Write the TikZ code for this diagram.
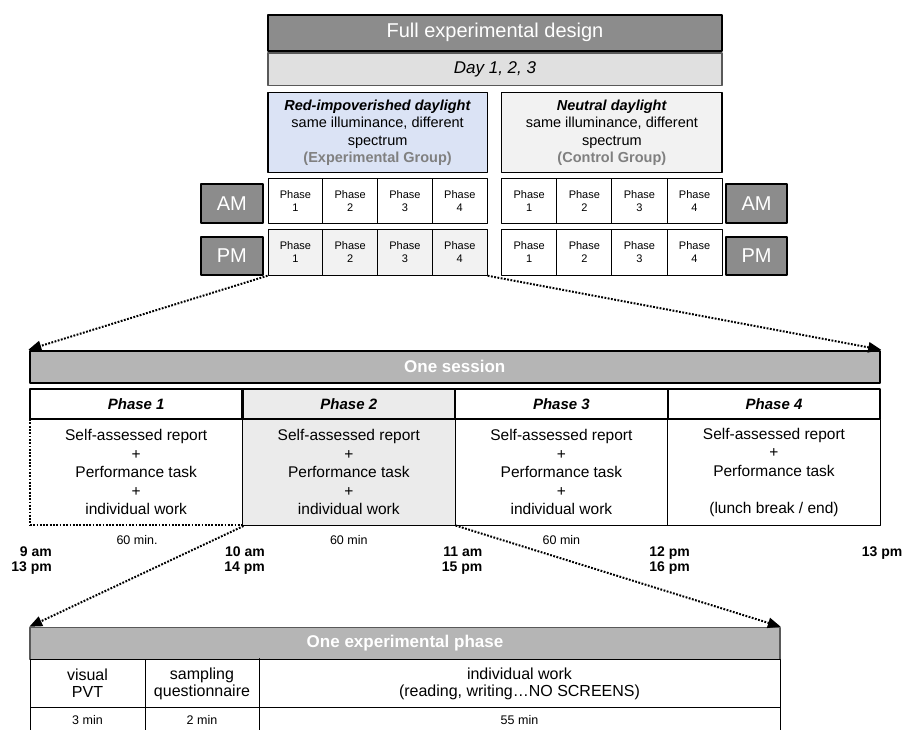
\documentclass[tikz,border=0pt]{standalone}
\usepackage{fontspec}
\setmainfont{Liberation Sans}
\usetikzlibrary{arrows,positioning}
\definecolor{sqsqsq}{rgb}{0.55,0.55,0.55}
\definecolor{dddddd}{rgb}{0.88,0.88,0.88}
\definecolor{dcebff}{rgb}{0.86,0.89,0.96}
\definecolor{fzfzfz}{rgb}{0.95,0.95,0.95}
\definecolor{bsbsbs}{rgb}{0.71,0.71,0.71}
\definecolor{ebebeb}{rgb}{0.92,0.92,0.92}
\definecolor{wvwvwv}{rgb}{0.35,0.35,0.35}
\definecolor{grouptxt}{rgb}{0.5,0.5,0.5}
\newcommand\fs[2]{\fontsize{#1}{#2}\selectfont}

\begin{document}
\begin{tikzpicture}[line cap=round,line join=round,>=triangle 45,x=1pt,y=-1pt,
    box/.style={draw,inner sep=0pt,align=center},
    cell/.style={box,line width=1pt,minimum height=45.5pt,font=\fs{11}{13}},
    ampm/.style={box,fill=sqsqsq,line width=2pt,minimum width=61.7pt,minimum height=38.5pt,text=white,font=\fs{20}{22}},
    head/.style={box,line width=2.2pt,minimum width=212.6pt,minimum height=30pt,font=\fs{15}{17}\bfseries\itshape},
    body/.style={box,line width=1pt,minimum width=212.6pt,minimum height=106pt,font=\fs{15.5}{18.5}},
    bar/.style={box,fill=bsbsbs,text=white,font=\fs{17}{19}\bfseries},
    tbl/.style={box,line width=1pt,font=\fs{16}{17}},
    tblmin/.style={draw,inner sep=0pt,line width=1pt,minimum height=27.6pt,text height=9pt,text depth=2.5pt,font=\fs{12.5}{14}},
    mins/.style={font=\fs{12.5}{14}},
    clock/.style={align=right,inner sep=0pt,anchor=east,font=\fs{14}{15.5}\bfseries},
    dots/.style={line cap=butt,line width=2pt,dash pattern=on 1.8pt off 1.5pt},
    zoomline/.style={->,dots}]
    \clip(0,0) rectangle (905,729);
    % full design
    \node[box,fill=sqsqsq,line width=1.6pt,minimum width=454pt,minimum height=36pt,text=white,font=\fs{20}{22}] (title) at (495,32.7) {Full experimental design};
    \node[box,draw=wvwvwv,fill=dddddd,line width=1.4pt,minimum width=454pt,minimum height=32.5pt,font=\fs{17}{19}\itshape] (day) at (495,69.4) {Day 1, 2, 3};
    \node[box,fill=dcebff,line width=1.4pt,minimum width=219.3pt,minimum height=80pt,font=\fs{14.5}{17.5}] (redgroup) at (377.6,132.7) {\textbf{\textit{Red-impoverished daylight}}\\same illuminance, different\\spectrum\\\textcolor{grouptxt}{\textbf{(Experimental Group)}}};
    \node[box,fill=fzfzfz,line width=1.4pt,minimum width=220.3pt,minimum height=80pt,font=\fs{14.5}{17.5}] (neutralgroup) at (611.85,132.7) {\textbf{\textit{Neutral daylight}}\\same illuminance, different\\spectrum\\\textcolor{grouptxt}{\textbf{(Control Group)}}};
    \foreach \i in {1,...,4} {
      \node[cell,minimum width=54.8pt] (amL\i) at ({268+54.8*(\i-0.5)},201.2) {Phase\\\i};
      \node[cell,fill=fzfzfz,minimum width=54.8pt] (pmL\i) at ({268+54.8*(\i-0.5)},252.5) {Phase\\\i};
      \node[cell,minimum width=55.1pt] (amR\i) at ({501.7+55.1*(\i-0.5)},201.2) {Phase\\\i};
      \node[cell,minimum width=55.1pt] (pmR\i) at ({501.7+55.1*(\i-0.5)},252.5) {Phase\\\i};
    }
    \node[ampm] (amlabL) at (231.8,203.3) {AM};
    \node[ampm] (pmlabL) at (231.8,255.8) {PM};
    \node[ampm] (amlabR) at (756.5,203.3) {AM};
    \node[ampm] (pmlabR) at (756.5,255.8) {PM};
    % one session
    \node[bar,line width=2pt,minimum width=850.5pt,minimum height=32.3pt] (session) at (454.75,366.85) {One session};
    \node[body,dots] (ph1body) at (136.2,472) {Self-assessed report\\+\\Performance task\\+\\individual work};
    \node[body,fill=ebebeb] (ph2body) at (348.8,472) {Self-assessed report\\+\\Performance task\\+\\individual work};
    \node[body] (ph3body) at (561.4,472) {Self-assessed report\\+\\Performance task\\+\\individual work};
    \node[body] (ph4body) at (774,472) {Self-assessed report\\+\\Performance task\\~\\(lunch break / end)};
    \node[head] (ph1head) at (136.2,404) {Phase 1};
    \node[head,fill=ebebeb] (ph2head) at (348.8,404) {Phase 2};
    \node[head] (ph3head) at (561.4,404) {Phase 3};
    \node[head] (ph4head) at (774,404) {Phase 4};
    \node[mins] (min1) at (137,540) {60 min.};
    \node[mins] (min2) at (348.8,540) {60 min};
    \node[mins] (min3) at (561.4,540) {60 min};
    \node[clock] (t9) at (52,560.5) {9 am\\13 pm};
    \node[clock] (t10) at (265,560.5) {10 am\\14 pm};
    \node[clock] (t11) at (482.5,560.5) {11 am\\15 pm};
    \node[clock] (t12) at (690,560.5) {12 pm\\16 pm};
    \node[clock] (t13) at (902.5,553) {13 pm};
    % one phase
    \node[bar,draw=wvwvwv,line width=1.2pt,minimum width=750pt,minimum height=32pt] (onephase) at (405,643.3) {One experimental phase};
    \node[tbl,minimum width=115pt,minimum height=48.4pt] (pvt) at (87.5,683.5) {visual\\PVT};
    \node[tbl,minimum width=114pt,minimum height=48.4pt] (quest) at (202,683.5) {sampling\\questionnaire};
    \node[tbl,minimum width=521pt,minimum height=48.4pt] (work) at (519.5,683.5) {individual work\\(reading, writing\ldots NO SCREENS)};
    \node[tblmin,minimum width=115pt] (pvtmin) at (87.5,721.5) {3 min};
    \node[tblmin,minimum width=114pt] (questmin) at (202,721.5) {2 min};
    \node[tblmin,minimum width=521pt] (workmin) at (519.5,721.5) {55 min};
    \draw[line width=1.5pt] (quest.north east) -- (questmin.south east);
    % zoom lines
    \draw[zoomline] (pmL1.south west) -- (session.north west);
    \draw[zoomline] (pmL4.south east) -- (session.north east);
    \draw[zoomline] (ph1body.south east) -- (onephase.north west);
    \draw[zoomline] (ph2body.south east) -- (onephase.north east);
\end{tikzpicture}
\end{document}
